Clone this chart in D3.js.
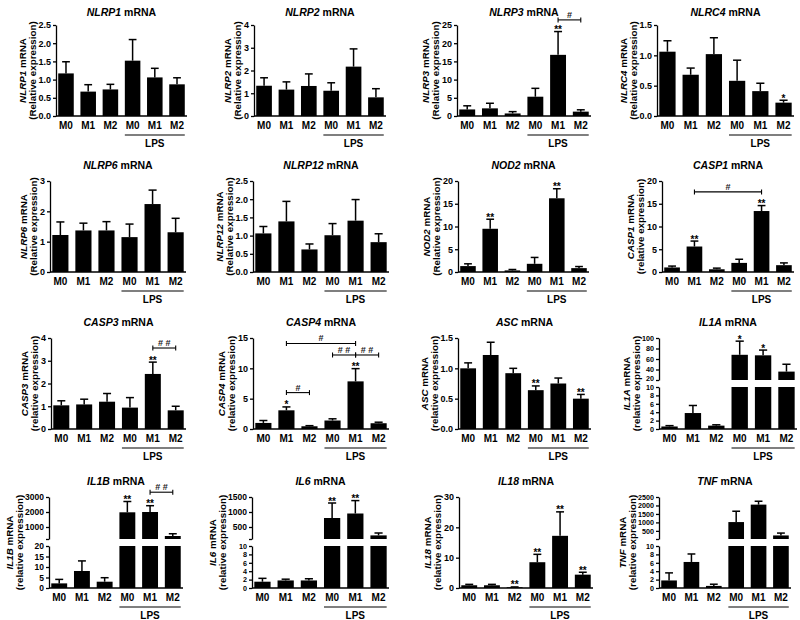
<!DOCTYPE html>
<html><head><meta charset="utf-8">
<script src="https://cdn.jsdelivr.net/npm/d3@7"></script>
<style>
body{margin:0;background:#fff}
svg{display:block}
text{font-family:"Liberation Sans",Arial,Helvetica,sans-serif;font-weight:bold;fill:#000}
</style></head><body>
<svg id="c" width="800" height="620"></svg>
<script>
// ---------- data ----------
const categories = ["M0","M1","M2","M0","M1","M2"];
const treatment = "LPS";

const NLRP1_mean  = [1.17,0.67,0.73,1.52,1.06,0.87];
const NLRP1_upper = [1.49,0.86,0.87,2.10,1.31,1.05];
const NLRP1_ticks = [0,0.5,1,1.5,2,2.5];

const NLRP2_mean  = [1.33,1.16,1.32,1.11,2.17,0.82];
const NLRP2_upper = [1.68,1.50,1.85,1.46,2.95,1.20];
const NLRP2_ticks = [0,1,2,3,4];

const NLRP3_mean  = [1.8,2.1,0.7,5.3,16.8,1.2];
const NLRP3_upper = [2.8,3.5,1.2,7.6,23.2,1.7];
const NLRP3_ticks = [0,5,10,15,20,25];
const NLRP3_stars = ["","","","","**",""];
const NLRP3_brackets = [[4,5,"#",26.4]];

const NLRC4_mean  = [1.06,0.68,1.02,0.58,0.41,0.22];
const NLRC4_upper = [1.24,0.79,1.29,0.92,0.54,0.26];
const NLRC4_ticks = [0,0.5,1,1.5];
const NLRC4_stars = ["","","","","","*"];

const NLRP6_mean  = [1.22,1.37,1.37,1.15,2.24,1.31];
const NLRP6_upper = [1.65,1.61,1.66,1.58,2.70,1.77];
const NLRP6_ticks = [0,1,2,3];

const NLRP12_mean  = [1.06,1.39,0.62,1.01,1.41,0.82];
const NLRP12_upper = [1.25,1.94,0.77,1.33,1.99,1.05];
const NLRP12_ticks = [0,0.5,1,1.5,2,2.5];

const NOD2_mean  = [1.3,9.5,0.35,1.8,16.2,0.85];
const NOD2_upper = [1.8,11.6,0.55,3.2,18.3,1.2];
const NOD2_ticks = [0,5,10,15,20];
const NOD2_stars = ["","**","","","**",""];

const CASP1_mean  = [1.0,5.6,0.6,2.0,13.4,1.5];
const CASP1_upper = [1.3,6.8,0.85,2.8,14.6,2.0];
const CASP1_ticks = [0,5,10,15,20];
const CASP1_stars = ["","**","","","**",""];
const CASP1_brackets = [[1,4,"#",17.6]];

const CASP3_mean  = [1.04,1.08,1.2,0.94,2.42,0.82];
const CASP3_upper = [1.24,1.31,1.56,1.38,2.94,1.0];
const CASP3_ticks = [0,1,2,3,4];
const CASP3_stars = ["","","","","**",""];
const CASP3_brackets = [[4,5,"# #",3.56]];

const CASP4_mean  = [1.0,3.08,0.45,1.4,7.85,0.95];
const CASP4_upper = [1.4,3.64,0.55,1.68,9.95,1.12];
const CASP4_ticks = [0,5,10,15];
const CASP4_stars = ["","*","","","**",""];
const CASP4_brackets = [[1,2,"#",6.0],[3,4,"# #",12.2],[4,5,"# #",12.2],[1,4,"#",14.1]];

const ASC_mean  = [1.0,1.22,0.92,0.64,0.75,0.5];
const ASC_upper = [1.09,1.43,1.0,0.71,0.84,0.57];
const ASC_ticks = [0,0.5,1,1.5];
const ASC_stars = ["","","","**","","**"];

const IL1A_mean  = [0.6,3.8,0.8,68,67,36];
const IL1A_upper = [0.8,5.6,1.0,94,77,50];
const IL1A_lowTicks  = [0,2,4,6,8,10];
const IL1A_highTicks = [20,40,60,80,100];
const IL1A_highDomain = [20,100];
const IL1A_stars = ["","","","*","*",""];

const IL1B_mean  = [2.2,8.1,3.0,1980,2000,400];
const IL1B_upper = [4.1,12.9,4.9,2700,2420,550];
const IL1B_lowTicks  = [0,5,10,15,20];
const IL1B_highTicks = [1000,2000,3000];
const IL1B_highDomain = [200,3000];
const IL1B_stars = ["","","","**","**",""];
const IL1B_brackets = [[4,5,"# #",3320]];

const IL6_mean  = [1.5,1.8,1.8,800,950,220];
const IL6_upper = [2.3,2.1,2.2,1300,1380,300];
const IL6_lowTicks  = [0,2,4,6,8,10];
const IL6_highTicks = [500,1000,1500];
const IL6_highDomain = [100,1500];
const IL6_stars = ["","","","**","**",""];

const IL18_mean  = [0.9,0.9,0.25,8.5,17.2,4.4];
const IL18_upper = [1.2,1.2,0.35,11.1,25.1,5.2];
const IL18_ticks = [0,10,20,30];
const IL18_stars = ["","","**","**","**","**"];

const TNF_mean  = [1.8,6.2,0.5,1020,2050,230];
const TNF_upper = [3.6,8.1,0.9,1660,2250,370];
const TNF_lowTicks  = [0,2,4,6,8,10];
const TNF_highTicks = [500,1000,1500,2000,2500];
const TNF_highDomain = [20,2500];

const RelLabel = "(Relative expression)";
const relLabel = "(relative expression)";

const panels = [
  {gene:"NLRP1", mean:NLRP1_mean, upper:NLRP1_upper, ticks:NLRP1_ticks, fmt:".1f", sub:RelLabel},
  {gene:"NLRP2", mean:NLRP2_mean, upper:NLRP2_upper, ticks:NLRP2_ticks, fmt:"d", sub:RelLabel},
  {gene:"NLRP3", mean:NLRP3_mean, upper:NLRP3_upper, ticks:NLRP3_ticks, fmt:"d", sub:RelLabel, stars:NLRP3_stars, brackets:NLRP3_brackets},
  {gene:"NLRC4", mean:NLRC4_mean, upper:NLRC4_upper, ticks:NLRC4_ticks, fmt:".1f", sub:RelLabel, stars:NLRC4_stars},
  {gene:"NLRP6", mean:NLRP6_mean, upper:NLRP6_upper, ticks:NLRP6_ticks, fmt:"d", sub:RelLabel},
  {gene:"NLRP12", mean:NLRP12_mean, upper:NLRP12_upper, ticks:NLRP12_ticks, fmt:".1f", sub:RelLabel},
  {gene:"NOD2", mean:NOD2_mean, upper:NOD2_upper, ticks:NOD2_ticks, fmt:"d", sub:RelLabel, stars:NOD2_stars},
  {gene:"CASP1", mean:CASP1_mean, upper:CASP1_upper, ticks:CASP1_ticks, fmt:"d", sub:relLabel, stars:CASP1_stars, brackets:CASP1_brackets},
  {gene:"CASP3", mean:CASP3_mean, upper:CASP3_upper, ticks:CASP3_ticks, fmt:"d", sub:relLabel, stars:CASP3_stars, brackets:CASP3_brackets},
  {gene:"CASP4", mean:CASP4_mean, upper:CASP4_upper, ticks:CASP4_ticks, fmt:"d", sub:relLabel, stars:CASP4_stars, brackets:CASP4_brackets},
  {gene:"ASC", mean:ASC_mean, upper:ASC_upper, ticks:ASC_ticks, fmt:".1f", sub:relLabel, stars:ASC_stars},
  {gene:"IL1A", mean:IL1A_mean, upper:IL1A_upper, broken:true, lowTicks:IL1A_lowTicks, highTicks:IL1A_highTicks, highDomain:IL1A_highDomain, sub:relLabel, stars:IL1A_stars},
  {gene:"IL1B", mean:IL1B_mean, upper:IL1B_upper, broken:true, lowTicks:IL1B_lowTicks, highTicks:IL1B_highTicks, highDomain:IL1B_highDomain, sub:relLabel, stars:IL1B_stars, brackets:IL1B_brackets},
  {gene:"IL6", mean:IL6_mean, upper:IL6_upper, broken:true, lowTicks:IL6_lowTicks, highTicks:IL6_highTicks, highDomain:IL6_highDomain, sub:relLabel, stars:IL6_stars},
  {gene:"IL18", mean:IL18_mean, upper:IL18_upper, ticks:IL18_ticks, fmt:"d", sub:relLabel, stars:IL18_stars},
  {gene:"TNF", mean:TNF_mean, upper:TNF_upper, broken:true, lowTicks:TNF_lowTicks, highTicks:TNF_highTicks, highDomain:TNF_highDomain, sub:relLabel}
];

// ---------- layout ----------
const rowZero = [116, 272, 429, 588];
const plotH = 91;
const lowH = 42, gapH = 7;
const titleBase = [16, 169, 326, 485];
const panelLeft  = [56,254,457,657, 50,253,458,662, 51,253,458,659, 49,252,459,659];
const panelRight = [187,386,591,794, 186,389,589,794, 186,389,591,797, 183,389,593,791];

const svg = d3.select("#c");

function styleAxis(ag, fs){
  ag.attr("font-family", null).attr("font-size", null);
  ag.select(".domain").attr("stroke","#000").attr("stroke-width",1.3);
  ag.selectAll(".tick line").attr("stroke","#000").attr("stroke-width",1.3);
  ag.selectAll(".tick text").attr("font-size", fs).attr("font-weight","bold");
}

panels.forEach((p,i)=>{
  const row = Math.floor(i/4);
  const L = panelLeft[i], R = panelRight[i];
  const zero = rowZero[row], top = zero - plotH;
  const g = svg.append("g");
  const x = d3.scaleBand().domain(d3.range(categories.length)).range([L,R]).paddingInner(0.3).paddingOuter(0.1);
  const bw = x.bandwidth();
  const axisGroups = [];
  let yOf, lowMax, yLo, yHi;

  if (!p.broken){
    const y = d3.scaleLinear().domain([0, d3.max(p.ticks)]).range([zero, top]);
    yOf = v => y(v);
    const ag = g.append("g").attr("transform",`translate(${L},0)`)
      .call(d3.axisLeft(y).tickValues(p.ticks).tickFormat(d3.format(p.fmt)).tickSize(3).tickSizeOuter(0).tickPadding(2));
    styleAxis(ag, "9px"); axisGroups.push(ag);
  } else {
    lowMax = d3.max(p.lowTicks);
    yLo = d3.scaleLinear().domain([0, lowMax]).range([zero, zero - lowH]);
    yHi = d3.scaleLinear().domain(p.highDomain).range([zero - lowH - gapH, top]);
    yOf = v => v <= lowMax ? yLo(v) : yHi(v);
    const lowFs = p.lowTicks.length > 5 ? "7.2px" : "8.5px";
    const ag1 = g.append("g").attr("transform",`translate(${L},0)`)
      .call(d3.axisLeft(yLo).tickValues(p.lowTicks).tickFormat(d3.format("d")).tickSize(3).tickSizeOuter(0).tickPadding(2));
    styleAxis(ag1, lowFs); axisGroups.push(ag1);
    const hiVals = Array.from(new Set([p.highDomain[0], ...p.highTicks]));
    const hiFs = p.highTicks.length > 4 ? "7.2px" : "8.5px";
    const ag2 = g.append("g").attr("transform",`translate(${L},0)`)
      .call(d3.axisLeft(yHi).tickValues(hiVals).tickFormat(d => p.highTicks.includes(d) ? d3.format("d")(d) : "").tickSize(3).tickSizeOuter(0).tickPadding(2));
    styleAxis(ag2, hiFs); axisGroups.push(ag2);
    // when the upper segment's bottom tick carries a label, lift it a little off the lower segment's top label
    if (p.highTicks.includes(p.highDomain[0])){
      ag2.selectAll(".tick").filter(d => d === p.highDomain[0]).select("text").attr("dy","0.02em");
    }
  }

  // bars
  p.mean.forEach((v,j)=>{
    if (!p.broken || v <= lowMax){
      g.append("rect").attr("x", x(j)).attr("y", yOf(v)).attr("width", bw).attr("height", zero - yOf(v)).attr("fill","#000");
    } else {
      g.append("rect").attr("x", x(j)).attr("y", yLo(lowMax)).attr("width", bw).attr("height", zero - yLo(lowMax)).attr("fill","#000");
      g.append("rect").attr("x", x(j)).attr("y", yHi(v)).attr("width", bw).attr("height", yHi(p.highDomain[0]) - yHi(v)).attr("fill","#000");
    }
  });

  // error bars (upper only)
  const capW = bw * 0.5;
  p.upper.forEach((u,j)=>{
    const cx = x(j) + bw/2;
    const y0 = yOf(p.mean[j]), y1 = yOf(u);
    g.append("line").attr("x1",cx).attr("x2",cx).attr("y1",y0).attr("y2",y1).attr("stroke","#000").attr("stroke-width",1.5);
    g.append("line").attr("x1",cx-capW/2).attr("x2",cx+capW/2).attr("y1",y1).attr("y2",y1).attr("stroke","#000").attr("stroke-width",1.5);
  });

  // x axis baseline
  g.append("line").attr("x1",L).attr("x2",R).attr("y1",zero).attr("y2",zero).attr("stroke","#000").attr("stroke-width",1.3);

  // x labels
  categories.forEach((c,j)=>{
    g.append("text").attr("x", x(j)+bw/2).attr("y", zero+13).attr("text-anchor","middle").attr("font-size","10px").text(c);
  });

  // LPS group line & label
  const lx1 = x(3), lx2 = x(5) + bw;
  g.append("line").attr("x1",lx1).attr("x2",lx2).attr("y1",zero+19).attr("y2",zero+19).attr("stroke","#000").attr("stroke-width",1.1);
  g.append("text").attr("x",(lx1+lx2)/2).attr("y",zero+31).attr("text-anchor","middle").attr("font-size","10px").text(treatment);

  // title
  const t = g.append("text").attr("x",(L+R)/2).attr("y",titleBase[row]).attr("text-anchor","middle").attr("font-size","10.5px");
  t.append("tspan").attr("font-style","italic").text(p.gene);
  t.append("tspan").text(" mRNA");

  // y label (two lines, rotated)
  const tickLeft = d3.min(axisGroups, a => a.node().getBBox().x) + L;
  const base = tickLeft - 2.5;
  const midY = (top + zero)/2;
  const yl = g.append("g").attr("transform",`translate(${base},${midY}) rotate(-90)`);
  const l1 = yl.append("text").attr("x",0).attr("y",-10).attr("text-anchor","middle").attr("font-size","9.8px");
  l1.append("tspan").attr("font-style","italic").text(p.gene);
  l1.append("tspan").text(" mRNA");
  yl.append("text").attr("x",0).attr("y",0).attr("text-anchor","middle").attr("font-size","9.8px").text(p.sub);

  // significance stars
  if (p.stars){
    p.stars.forEach((s,j)=>{
      if (!s) return;
      g.append("text").attr("x", x(j)+bw/2).attr("y", yOf(p.upper[j]) + 1.5).attr("text-anchor","middle").attr("font-size","10px").text(s);
    });
  }

  // brackets
  if (p.brackets){
    p.brackets.forEach(([a,b,lab,lev])=>{
      const xa = x(a)+bw/2, xb = x(b)+bw/2, yy = yOf(lev);
      g.append("line").attr("x1",xa).attr("x2",xb).attr("y1",yy).attr("y2",yy).attr("stroke","#000").attr("stroke-width",1.1);
      [xa,xb].forEach(xx => g.append("line").attr("x1",xx).attr("x2",xx).attr("y1",yy-2.5).attr("y2",yy+2.5).attr("stroke","#000").attr("stroke-width",1.1));
      g.append("text").attr("x",(xa+xb)/2).attr("y",yy-2).attr("text-anchor","middle").attr("font-size","9px").attr("font-weight","normal").style("fill","#222").text(lab);
    });
  }
});
</script>
</body></html>
